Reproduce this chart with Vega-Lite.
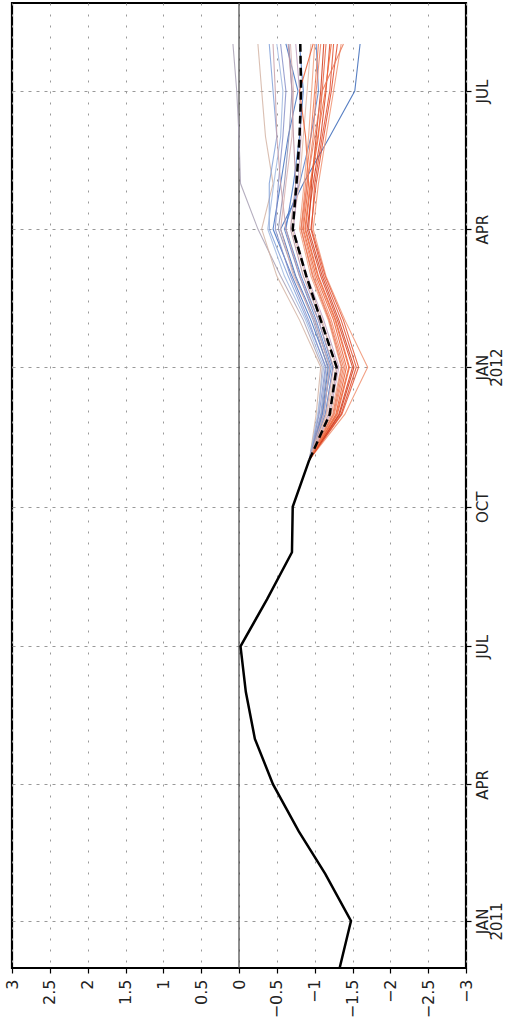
{
  "$schema": "https://vega.github.io/schema/vega-lite/v6.json",
  "autosize": "none",
  "width": 454,
  "height": 965,
  "padding": {"left": 12, "top": 3, "right": 41, "bottom": 68},
  "background": "white",
  "config": {
    "view": {"stroke": "#000", "strokeWidth": 2.2},
    "font": "DejaVu Sans"
  },
  "datasets": {
    "obs": [
      {"t": "2010-12", "v": -1.33}, {"t": "2011-01", "v": -1.48}, {"t": "2011-02", "v": -1.14},
      {"t": "2011-03", "v": -0.79}, {"t": "2011-04", "v": -0.45}, {"t": "2011-05", "v": -0.21},
      {"t": "2011-06", "v": -0.09}, {"t": "2011-07", "v": -0.02}, {"t": "2011-08", "v": -0.37},
      {"t": "2011-09", "v": -0.70}, {"t": "2011-10", "v": -0.71}, {"t": "2011-11", "v": -0.93}
    ],
    "mean": [
      {"t": "2011-11", "v": -0.93}, {"t": "2011-12", "v": -1.20}, {"t": "2012-01", "v": -1.29},
      {"t": "2012-02", "v": -1.08}, {"t": "2012-03", "v": -0.89}, {"t": "2012-04", "v": -0.71},
      {"t": "2012-05", "v": -0.76}, {"t": "2012-06", "v": -0.80}, {"t": "2012-07", "v": -0.82},
      {"t": "2012-08", "v": -0.81}
    ],
    "zero": [{"v": 0}],
    "members": [
      {"s": "b01", "t": "2011-11", "v": -0.93}, {"s": "b01", "t": "2011-12", "v": -1.05}, {"s": "b01", "t": "2012-01", "v": -1.10}, {"s": "b01", "t": "2012-02", "v": -0.85}, {"s": "b01", "t": "2012-03", "v": -0.55}, {"s": "b01", "t": "2012-04", "v": -0.25}, {"s": "b01", "t": "2012-05", "v": -0.02}, {"s": "b01", "t": "2012-06", "v": 0.00}, {"s": "b01", "t": "2012-07", "v": 0.03}, {"s": "b01", "t": "2012-08", "v": 0.08},
      {"s": "b02", "t": "2011-11", "v": -0.93}, {"s": "b02", "t": "2011-12", "v": -1.02}, {"s": "b02", "t": "2012-01", "v": -1.08}, {"s": "b02", "t": "2012-02", "v": -0.80}, {"s": "b02", "t": "2012-03", "v": -0.50}, {"s": "b02", "t": "2012-04", "v": -0.30}, {"s": "b02", "t": "2012-05", "v": -0.45}, {"s": "b02", "t": "2012-06", "v": -0.35}, {"s": "b02", "t": "2012-07", "v": -0.30}, {"s": "b02", "t": "2012-08", "v": -0.25},
      {"s": "b03", "t": "2011-11", "v": -0.93}, {"s": "b03", "t": "2011-12", "v": -1.10}, {"s": "b03", "t": "2012-01", "v": -1.18}, {"s": "b03", "t": "2012-02", "v": -0.95}, {"s": "b03", "t": "2012-03", "v": -0.70}, {"s": "b03", "t": "2012-04", "v": -0.45}, {"s": "b03", "t": "2012-05", "v": -0.55}, {"s": "b03", "t": "2012-06", "v": -0.65}, {"s": "b03", "t": "2012-07", "v": -0.78}, {"s": "b03", "t": "2012-08", "v": -0.62},
      {"s": "b04", "t": "2011-11", "v": -0.93}, {"s": "b04", "t": "2011-12", "v": -1.08}, {"s": "b04", "t": "2012-01", "v": -1.15}, {"s": "b04", "t": "2012-02", "v": -0.90}, {"s": "b04", "t": "2012-03", "v": -0.65}, {"s": "b04", "t": "2012-04", "v": -0.40}, {"s": "b04", "t": "2012-05", "v": -0.40}, {"s": "b04", "t": "2012-06", "v": -0.50}, {"s": "b04", "t": "2012-07", "v": -0.45}, {"s": "b04", "t": "2012-08", "v": -0.40},
      {"s": "b05", "t": "2011-11", "v": -0.93}, {"s": "b05", "t": "2011-12", "v": -1.12}, {"s": "b05", "t": "2012-01", "v": -1.20}, {"s": "b05", "t": "2012-02", "v": -1.00}, {"s": "b05", "t": "2012-03", "v": -0.75}, {"s": "b05", "t": "2012-04", "v": -0.55}, {"s": "b05", "t": "2012-05", "v": -0.85}, {"s": "b05", "t": "2012-06", "v": -1.20}, {"s": "b05", "t": "2012-07", "v": -1.53}, {"s": "b05", "t": "2012-08", "v": -1.60},
      {"s": "b06", "t": "2011-11", "v": -0.93}, {"s": "b06", "t": "2011-12", "v": -1.10}, {"s": "b06", "t": "2012-01", "v": -1.22}, {"s": "b06", "t": "2012-02", "v": -1.02}, {"s": "b06", "t": "2012-03", "v": -0.80}, {"s": "b06", "t": "2012-04", "v": -0.60}, {"s": "b06", "t": "2012-05", "v": -0.80}, {"s": "b06", "t": "2012-06", "v": -0.95}, {"s": "b06", "t": "2012-07", "v": -1.05}, {"s": "b06", "t": "2012-08", "v": -1.02},
      {"s": "b07", "t": "2011-11", "v": -0.93}, {"s": "b07", "t": "2011-12", "v": -1.06}, {"s": "b07", "t": "2012-01", "v": -1.14}, {"s": "b07", "t": "2012-02", "v": -0.92}, {"s": "b07", "t": "2012-03", "v": -0.68}, {"s": "b07", "t": "2012-04", "v": -0.48}, {"s": "b07", "t": "2012-05", "v": -0.52}, {"s": "b07", "t": "2012-06", "v": -0.58}, {"s": "b07", "t": "2012-07", "v": -0.62}, {"s": "b07", "t": "2012-08", "v": -0.55},
      {"s": "b08", "t": "2011-11", "v": -0.93}, {"s": "b08", "t": "2011-12", "v": -1.09}, {"s": "b08", "t": "2012-01", "v": -1.17}, {"s": "b08", "t": "2012-02", "v": -0.98}, {"s": "b08", "t": "2012-03", "v": -0.74}, {"s": "b08", "t": "2012-04", "v": -0.52}, {"s": "b08", "t": "2012-05", "v": -0.60}, {"s": "b08", "t": "2012-06", "v": -0.66}, {"s": "b08", "t": "2012-07", "v": -0.70}, {"s": "b08", "t": "2012-08", "v": -0.66},
      {"s": "b09", "t": "2011-11", "v": -0.93}, {"s": "b09", "t": "2011-12", "v": -1.14}, {"s": "b09", "t": "2012-01", "v": -1.24}, {"s": "b09", "t": "2012-02", "v": -1.05}, {"s": "b09", "t": "2012-03", "v": -0.82}, {"s": "b09", "t": "2012-04", "v": -0.62}, {"s": "b09", "t": "2012-05", "v": -0.72}, {"s": "b09", "t": "2012-06", "v": -0.80}, {"s": "b09", "t": "2012-07", "v": -0.85}, {"s": "b09", "t": "2012-08", "v": -0.80},
      {"s": "b10", "t": "2011-11", "v": -0.93}, {"s": "b10", "t": "2011-12", "v": -1.04}, {"s": "b10", "t": "2012-01", "v": -1.12}, {"s": "b10", "t": "2012-02", "v": -0.88}, {"s": "b10", "t": "2012-03", "v": -0.60}, {"s": "b10", "t": "2012-04", "v": -0.38}, {"s": "b10", "t": "2012-05", "v": -0.46}, {"s": "b10", "t": "2012-06", "v": -0.55}, {"s": "b10", "t": "2012-07", "v": -0.58}, {"s": "b10", "t": "2012-08", "v": -0.50},
      {"s": "p1", "t": "2011-11", "v": -0.93}, {"s": "p1", "t": "2011-12", "v": -1.15}, {"s": "p1", "t": "2012-01", "v": -1.25}, {"s": "p1", "t": "2012-02", "v": -1.05}, {"s": "p1", "t": "2012-03", "v": -0.80}, {"s": "p1", "t": "2012-04", "v": -0.62}, {"s": "p1", "t": "2012-05", "v": -0.55}, {"s": "p1", "t": "2012-06", "v": -0.50}, {"s": "p1", "t": "2012-07", "v": -0.48}, {"s": "p1", "t": "2012-08", "v": -0.45},
      {"s": "p2", "t": "2011-11", "v": -0.93}, {"s": "p2", "t": "2011-12", "v": -1.12}, {"s": "p2", "t": "2012-01", "v": -1.20}, {"s": "p2", "t": "2012-02", "v": -1.00}, {"s": "p2", "t": "2012-03", "v": -0.72}, {"s": "p2", "t": "2012-04", "v": -0.55}, {"s": "p2", "t": "2012-05", "v": -0.62}, {"s": "p2", "t": "2012-06", "v": -0.70}, {"s": "p2", "t": "2012-07", "v": -0.72}, {"s": "p2", "t": "2012-08", "v": -0.68},
      {"s": "p3", "t": "2011-11", "v": -0.93}, {"s": "p3", "t": "2011-12", "v": -1.18}, {"s": "p3", "t": "2012-01", "v": -1.30}, {"s": "p3", "t": "2012-02", "v": -1.08}, {"s": "p3", "t": "2012-03", "v": -0.85}, {"s": "p3", "t": "2012-04", "v": -0.68}, {"s": "p3", "t": "2012-05", "v": -0.75}, {"s": "p3", "t": "2012-06", "v": -0.72}, {"s": "p3", "t": "2012-07", "v": -0.70}, {"s": "p3", "t": "2012-08", "v": -0.65},
      {"s": "p4", "t": "2011-11", "v": -0.93}, {"s": "p4", "t": "2011-12", "v": -1.16}, {"s": "p4", "t": "2012-01", "v": -1.28}, {"s": "p4", "t": "2012-02", "v": -1.10}, {"s": "p4", "t": "2012-03", "v": -0.88}, {"s": "p4", "t": "2012-04", "v": -0.70}, {"s": "p4", "t": "2012-05", "v": -0.80}, {"s": "p4", "t": "2012-06", "v": -0.85}, {"s": "p4", "t": "2012-07", "v": -0.90}, {"s": "p4", "t": "2012-08", "v": -0.95},
      {"s": "p5", "t": "2011-11", "v": -0.93}, {"s": "p5", "t": "2011-12", "v": -1.20}, {"s": "p5", "t": "2012-01", "v": -1.32}, {"s": "p5", "t": "2012-02", "v": -1.12}, {"s": "p5", "t": "2012-03", "v": -0.90}, {"s": "p5", "t": "2012-04", "v": -0.72}, {"s": "p5", "t": "2012-05", "v": -0.78}, {"s": "p5", "t": "2012-06", "v": -0.82}, {"s": "p5", "t": "2012-07", "v": -0.80}, {"s": "p5", "t": "2012-08", "v": -0.75},
      {"s": "r01", "t": "2011-11", "v": -0.93}, {"s": "r01", "t": "2011-12", "v": -1.28}, {"s": "r01", "t": "2012-01", "v": -1.42}, {"s": "r01", "t": "2012-02", "v": -1.25}, {"s": "r01", "t": "2012-03", "v": -1.02}, {"s": "r01", "t": "2012-04", "v": -0.85}, {"s": "r01", "t": "2012-05", "v": -0.92}, {"s": "r01", "t": "2012-06", "v": -0.88}, {"s": "r01", "t": "2012-07", "v": -0.80}, {"s": "r01", "t": "2012-08", "v": -0.98},
      {"s": "r02", "t": "2011-11", "v": -0.93}, {"s": "r02", "t": "2011-12", "v": -1.32}, {"s": "r02", "t": "2012-01", "v": -1.50}, {"s": "r02", "t": "2012-02", "v": -1.30}, {"s": "r02", "t": "2012-03", "v": -1.08}, {"s": "r02", "t": "2012-04", "v": -0.90}, {"s": "r02", "t": "2012-05", "v": -0.98}, {"s": "r02", "t": "2012-06", "v": -1.08}, {"s": "r02", "t": "2012-07", "v": -1.15}, {"s": "r02", "t": "2012-08", "v": -1.20},
      {"s": "r03", "t": "2011-11", "v": -0.93}, {"s": "r03", "t": "2011-12", "v": -1.25}, {"s": "r03", "t": "2012-01", "v": -1.38}, {"s": "r03", "t": "2012-02", "v": -1.20}, {"s": "r03", "t": "2012-03", "v": -0.98}, {"s": "r03", "t": "2012-04", "v": -0.82}, {"s": "r03", "t": "2012-05", "v": -0.88}, {"s": "r03", "t": "2012-06", "v": -0.95}, {"s": "r03", "t": "2012-07", "v": -1.00}, {"s": "r03", "t": "2012-08", "v": -1.05},
      {"s": "r04", "t": "2011-11", "v": -0.93}, {"s": "r04", "t": "2011-12", "v": -1.35}, {"s": "r04", "t": "2012-01", "v": -1.55}, {"s": "r04", "t": "2012-02", "v": -1.35}, {"s": "r04", "t": "2012-03", "v": -1.12}, {"s": "r04", "t": "2012-04", "v": -0.95}, {"s": "r04", "t": "2012-05", "v": -1.02}, {"s": "r04", "t": "2012-06", "v": -1.12}, {"s": "r04", "t": "2012-07", "v": -1.22}, {"s": "r04", "t": "2012-08", "v": -1.30},
      {"s": "r05", "t": "2011-11", "v": -0.93}, {"s": "r05", "t": "2011-12", "v": -1.40}, {"s": "r05", "t": "2012-01", "v": -1.70}, {"s": "r05", "t": "2012-02", "v": -1.40}, {"s": "r05", "t": "2012-03", "v": -1.15}, {"s": "r05", "t": "2012-04", "v": -0.98}, {"s": "r05", "t": "2012-05", "v": -1.05}, {"s": "r05", "t": "2012-06", "v": -1.15}, {"s": "r05", "t": "2012-07", "v": -1.25}, {"s": "r05", "t": "2012-08", "v": -1.35},
      {"s": "r06", "t": "2011-11", "v": -0.93}, {"s": "r06", "t": "2011-12", "v": -1.30}, {"s": "r06", "t": "2012-01", "v": -1.46}, {"s": "r06", "t": "2012-02", "v": -1.28}, {"s": "r06", "t": "2012-03", "v": -1.05}, {"s": "r06", "t": "2012-04", "v": -0.88}, {"s": "r06", "t": "2012-05", "v": -0.95}, {"s": "r06", "t": "2012-06", "v": -1.05}, {"s": "r06", "t": "2012-07", "v": -1.10}, {"s": "r06", "t": "2012-08", "v": -1.15},
      {"s": "r07", "t": "2011-11", "v": -0.93}, {"s": "r07", "t": "2011-12", "v": -1.26}, {"s": "r07", "t": "2012-01", "v": -1.40}, {"s": "r07", "t": "2012-02", "v": -1.22}, {"s": "r07", "t": "2012-03", "v": -1.00}, {"s": "r07", "t": "2012-04", "v": -0.84}, {"s": "r07", "t": "2012-05", "v": -0.90}, {"s": "r07", "t": "2012-06", "v": -0.98}, {"s": "r07", "t": "2012-07", "v": -1.02}, {"s": "r07", "t": "2012-08", "v": -1.08},
      {"s": "r08", "t": "2011-11", "v": -0.93}, {"s": "r08", "t": "2011-12", "v": -1.33}, {"s": "r08", "t": "2012-01", "v": -1.52}, {"s": "r08", "t": "2012-02", "v": -1.32}, {"s": "r08", "t": "2012-03", "v": -1.10}, {"s": "r08", "t": "2012-04", "v": -0.92}, {"s": "r08", "t": "2012-05", "v": -0.96}, {"s": "r08", "t": "2012-06", "v": -1.02}, {"s": "r08", "t": "2012-07", "v": -1.08}, {"s": "r08", "t": "2012-08", "v": -1.12},
      {"s": "r09", "t": "2011-11", "v": -0.93}, {"s": "r09", "t": "2011-12", "v": -1.22}, {"s": "r09", "t": "2012-01", "v": -1.35}, {"s": "r09", "t": "2012-02", "v": -1.18}, {"s": "r09", "t": "2012-03", "v": -0.95}, {"s": "r09", "t": "2012-04", "v": -0.80}, {"s": "r09", "t": "2012-05", "v": -0.86}, {"s": "r09", "t": "2012-06", "v": -0.92}, {"s": "r09", "t": "2012-07", "v": -0.96}, {"s": "r09", "t": "2012-08", "v": -1.00},
      {"s": "r10", "t": "2011-11", "v": -0.93}, {"s": "r10", "t": "2011-12", "v": -1.36}, {"s": "r10", "t": "2012-01", "v": -1.58}, {"s": "r10", "t": "2012-02", "v": -1.38}, {"s": "r10", "t": "2012-03", "v": -1.14}, {"s": "r10", "t": "2012-04", "v": -0.96}, {"s": "r10", "t": "2012-05", "v": -1.00}, {"s": "r10", "t": "2012-06", "v": -1.10}, {"s": "r10", "t": "2012-07", "v": -1.20}, {"s": "r10", "t": "2012-08", "v": -1.25},
      {"s": "r11", "t": "2011-11", "v": -0.93}, {"s": "r11", "t": "2011-12", "v": -1.29}, {"s": "r11", "t": "2012-01", "v": -1.45}, {"s": "r11", "t": "2012-02", "v": -1.27}, {"s": "r11", "t": "2012-03", "v": -1.04}, {"s": "r11", "t": "2012-04", "v": -0.87}, {"s": "r11", "t": "2012-05", "v": -0.94}, {"s": "r11", "t": "2012-06", "v": -1.04}, {"s": "r11", "t": "2012-07", "v": -1.14}, {"s": "r11", "t": "2012-08", "v": -1.22},
      {"s": "r12", "t": "2011-11", "v": -0.93}, {"s": "r12", "t": "2011-12", "v": -1.24}, {"s": "r12", "t": "2012-01", "v": -1.36}, {"s": "r12", "t": "2012-02", "v": -1.19}, {"s": "r12", "t": "2012-03", "v": -0.97}, {"s": "r12", "t": "2012-04", "v": -0.82}, {"s": "r12", "t": "2012-05", "v": -0.90}, {"s": "r12", "t": "2012-06", "v": -1.00}, {"s": "r12", "t": "2012-07", "v": -1.10}, {"s": "r12", "t": "2012-08", "v": -1.38}
    ]
  },
  "encoding": {
    "x": {
      "field": "v",
      "type": "quantitative",
      "scale": {"domain": [-3, 3], "reverse": true, "nice": false, "zero": false},
      "axis": {
        "orient": "bottom",
        "title": null,
        "values": [-3, -2.5, -2, -1.5, -1, -0.5, 0, 0.5, 1, 1.5, 2, 2.5, 3],
        "format": "~g",
        "labelAngle": -90,
        "labelAlign": "right",
        "labelBaseline": "middle",
        "labelFont": "DejaVu Sans",
        "labelFontSize": 16,
        "labelColor": "#222",
        "labelPadding": 6,
        "labelFlush": false,
        "labelOverlap": false,
        "tickSize": 5,
        "tickColor": "#000",
        "tickWidth": 1.2,
        "domain": false,
        "grid": true,
        "gridColor": "#999",
        "gridDash": [2, 9],
        "gridWidth": 1
      }
    },
    "y": {
      "field": "t",
      "type": "temporal",
      "scale": {"domain": [{"year": 2010, "month": 12, "date": 1}, {"year": 2012, "month": 8, "date": 28}], "nice": false},
      "axis": {
        "orient": "right",
        "title": null,
        "values": [
          {"year": 2011, "month": 1, "date": 1}, {"year": 2011, "month": 4, "date": 1},
          {"year": 2011, "month": 7, "date": 1}, {"year": 2011, "month": 10, "date": 1},
          {"year": 2012, "month": 1, "date": 1}, {"year": 2012, "month": 4, "date": 1},
          {"year": 2012, "month": 7, "date": 1}
        ],
        "labelExpr": "month(datum.value) == 0 ? [upper(timeFormat(datum.value, '%b')), timeFormat(datum.value, '%Y')] : upper(timeFormat(datum.value, '%b'))",
        "labelAngle": -90,
        "labelAlign": "center",
        "labelBaseline": "top",
        "labelFont": "DejaVu Sans",
        "labelFontSize": 15,
        "labelLineHeight": 14,
        "labelColor": "#222",
        "labelPadding": 4,
        "labelFlush": false,
        "labelOverlap": false,
        "tickSize": 5,
        "tickColor": "#000",
        "tickWidth": 1.2,
        "domain": false,
        "grid": true,
        "gridColor": "#999",
        "gridDash": [3, 5],
        "gridWidth": 1
      }
    }
  },
  "layer": [
    {
      "data": {"name": "zero"},
      "mark": {"type": "rule", "color": "#444", "strokeWidth": 1.2},
      "encoding": {"y": null}
    },
    {
      "data": {"name": "members", "format": {"parse": {"t": "date:'%Y-%m'"}}},
      "mark": {"type": "line", "strokeWidth": 1.1, "opacity": 0.85},
      "encoding": {
        "order": {"field": "t", "type": "temporal"},
        "color": {
          "field": "s",
          "type": "nominal",
          "legend": null,
          "scale": {
            "domain": ["b01", "b02", "b03", "b04", "b05", "b06", "b07", "b08", "b09", "b10", "p1", "p2", "p3", "p4", "p5", "r01", "r02", "r03", "r04", "r05", "r06", "r07", "r08", "r09", "r10", "r11", "r12"],
            "range": ["#a8a0b4", "#d4b4a4", "#4070c0", "#80a0d8", "#3a68b8", "#5a80c8", "#8890c8", "#9090b0", "#4a78c8", "#a0b8e0", "#c8a0a8", "#d8b0b0", "#b890a0", "#e0b8a8", "#c0a0c0", "#e85a30", "#d84020", "#f07850", "#e04828", "#f09070", "#e86040", "#f08060", "#d03818", "#f0a080", "#e05030", "#f06838", "#e87858"]
          }
        }
      }
    },
    {
      "data": {"name": "mean", "format": {"parse": {"t": "date:'%Y-%m'"}}},
      "mark": {"type": "line", "color": "#000", "strokeWidth": 2.5, "strokeDash": [8, 4]},
      "encoding": {"order": {"field": "t", "type": "temporal"}}
    },
    {
      "data": {"name": "obs", "format": {"parse": {"t": "date:'%Y-%m'"}}},
      "mark": {"type": "line", "color": "#000", "strokeWidth": 2.5},
      "encoding": {"order": {"field": "t", "type": "temporal"}}
    }
  ]
}
